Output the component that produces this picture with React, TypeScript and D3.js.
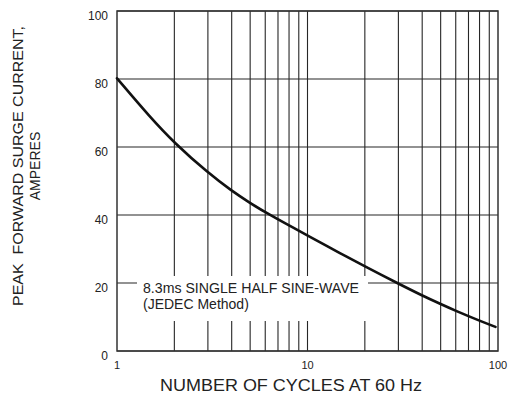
import React from "react";
import * as d3 from "d3";

const cycles = [1, 1.5, 2, 3, 4, 5, 6, 8, 10, 15, 20, 30, 40, 50, 60, 80, 97];
const amps = [80.2, 68.6, 61.2, 52.4, 47.1, 43.5, 40.8, 36.9, 34.0, 28.6, 24.9, 19.8, 16.3, 13.8, 11.8, 8.9, 7.1];
const yTicks = [0, 20, 40, 60, 80, 100];
const xTickLabels = [1, 10, 100];
const xGrid = [2, 3, 4, 5, 6, 7, 8, 9, 10, 20, 30, 40, 50, 60, 70, 80, 90];
const yTitle = ["PEAK  FORWARD SURGE CURRENT,", "AMPERES"];
const xTitle = "NUMBER OF CYCLES AT 60 Hz";
const noteLines = ["8.3ms SINGLE HALF SINE-WAVE", "(JEDEC Method)"];

const W = 513, H = 396;
const L = 117, R = 498, T = 11, B = 351;

export default function App() {
  const x = d3.scaleLog().domain([1, 100]).range([L, R]);
  const y = d3.scaleLinear().domain([0, 100]).range([B, T]);
  const line = d3.line<number>().x((d, i) => x(cycles[i])).y((d) => y(d)).curve(d3.curveBasis);
  const font = "Liberation Sans, Arial, sans-serif";
  return (
    <svg width={W} height={H} style={{ position: "absolute", left: 0, top: 0, background: "#fff" }} fontFamily={font}>
      {xGrid.map((v) => (
        <line key={"xg" + v} x1={x(v)} x2={x(v)} y1={T} y2={B} stroke="#262626" strokeWidth={1.1} />
      ))}
      {yTicks.map((v) => (
        <line key={"yg" + v} x1={L} x2={R} y1={y(v)} y2={y(v)} stroke="#262626" strokeWidth={1.1} />
      ))}
      <rect x={137} y={276} width={231} height={45} fill="#fff" />
      <text x={143} y={293} fontSize={14} fill="#222" textLength={216} lengthAdjust="spacingAndGlyphs">{noteLines[0]}</text>
      <text x={143} y={309} fontSize={14} fill="#222">{noteLines[1]}</text>
      <rect x={L} y={T} width={R - L} height={B - T} fill="none" stroke="#333" strokeWidth={1.5} />
      <path d={line(amps) || ""} fill="none" stroke="#111" strokeWidth={2.6} strokeLinecap="round" />
      {yTicks.map((v) => (
        <text key={"yl" + v} x={108} y={y(v) + 9} fontSize={12} textAnchor="end" fill="#222">{v}</text>
      ))}
      {xTickLabels.map((v) => (
        <text key={"xl" + v} x={x(v)} y={369} fontSize={11} textAnchor="middle" fill="#222">{v}</text>
      ))}
      <text x={291} y={391} fontSize={16} textAnchor="middle" fill="#222" textLength={262} lengthAdjust="spacingAndGlyphs">{xTitle}</text>
      <g transform="translate(23,166) rotate(-90)">
        <text x={0} y={0} fontSize={14} textAnchor="middle" fill="#222" style={{ whiteSpace: "pre" }} textLength={280} lengthAdjust="spacingAndGlyphs">{yTitle[0]}</text>
        <text x={0} y={17} fontSize={14} textAnchor="middle" fill="#222">{yTitle[1]}</text>
      </g>
    </svg>
  );
}
